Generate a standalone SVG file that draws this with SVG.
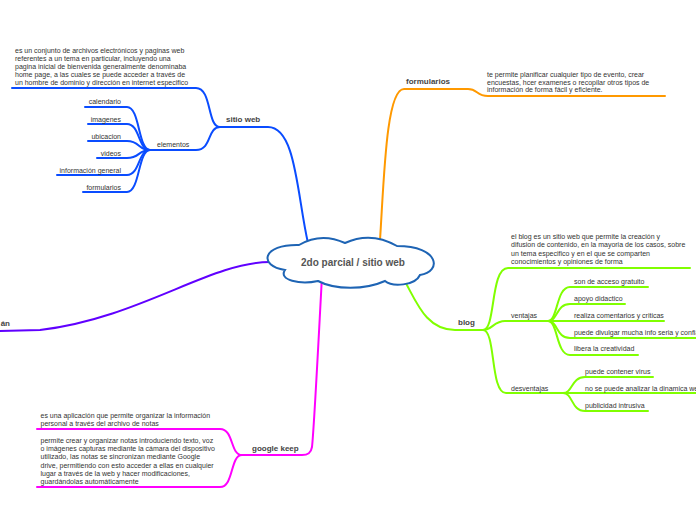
<svg xmlns="http://www.w3.org/2000/svg" width="696" height="520" viewBox="0 0 696 520">
<style>
.c{fill:none;stroke-width:2;stroke-linecap:round}
.b{stroke:#0a4cff}.o{stroke:#ff9900}.g{stroke:#80ff00}.m{stroke:#ff00ff}.p{stroke:#6000ff}
text{font-family:"Liberation Sans",Arial,sans-serif;fill:#333}
.t{font-size:7px}
.l{font-size:8px;font-weight:bold;fill:#444}
.ctr{font-size:10px;font-weight:bold;fill:#555}
</style>
<rect width="696" height="520" fill="#fff"/>
<g id="connectors">
<path class="c b" d="M308,243 C297,195 296,127 268,127 L220,127"/>
<path class="c b" d="M220,127 C207,127 212,88 196,88 L12,88"/>
<path class="c b" d="M220,127 C207,127 212,150 196,150 L150,150"/>
<path class="c b" d="M150,150 C138,150 140,107 127,107 L85,107"/>
<path class="c b" d="M150,150 C138,150 140,124 127,124 L88,124"/>
<path class="c b" d="M150,150 C138,150 140,141 127,141 L88,141"/>
<path class="c b" d="M150,150 C138,150 140,158 127,158 L97,158"/>
<path class="c b" d="M150,150 C138,150 140,175 127,175 L57,175"/>
<path class="c b" d="M150,150 C138,150 140,192 127,192 L83,192"/>
<path class="c o" d="M380,240 C384,180 386,89 404,89 L468,89 C478,89 476,96 488,96 L665,96"/>
<path class="c g" d="M403,278 C416,300 425,330 455,330 L483,330"/>
<path class="c g" d="M483,330 C496,330 490,268 508,268 L690,268"/>
<path class="c g" d="M483,330 C492,330 494,321 505,321 L548,321"/>
<path class="c g" d="M483,330 C496,330 490,393 506,393 L563,393"/>
<path class="c g" d="M548,321 C558,321 556,287 570,287 L648,287"/>
<path class="c g" d="M548,321 C558,321 556,304 570,304 L625,304"/>
<path class="c g" d="M548,321 L664,321"/>
<path class="c g" d="M548,321 C558,321 556,338 570,338 L700,338"/>
<path class="c g" d="M548,321 C558,321 556,355 570,355 L638,355"/>
<path class="c g" d="M563,393 C573,393 571,377 585,377 L653,377"/>
<path class="c g" d="M563,393 L700,393"/>
<path class="c g" d="M563,393 C573,393 571,411 585,411 L648,411"/>
<path class="c p" d="M270,262 C210,262 140,318 40,330 L-2,331"/>
<path class="c m" d="M322,276 C318,350 314,430 312,447 C311,453 308,455 302,455 L242,455"/>
<path class="c m" d="M242,455 C230,455 234,429 220,429 L37,429"/>
<path class="c m" d="M242,455 C230,455 234,487 220,487 L37,487"/>
</g>
<g id="center">
<path d="M299,245 Q321,232 345,243 Q371,231 397,246 C440,246 442,272 420,275 C415,286 392,287 385,281 C365,290 335,290 318,281 C300,285 278,280 285,270 C258,266 262,244 299,245 Z" fill="#fff" stroke="#1e64b4" stroke-width="2"/>
<text class="ctr" x="353" y="266" text-anchor="middle">2do parcial / sitio web</text>
</g>
<g id="sitio-web">
<text class="l" x="226" y="122">sitio web</text>
</g>
<g id="sitio-web-def">
<text class="t" x="15" y="52.5">es un conjunto de archivos electrónicos y paginas web</text>
<text class="t" x="15" y="60.6">referentes a un tema en particular, incluyendo una</text>
<text class="t" x="15" y="68.7">pagina inicial de bienvenida generalmente denominaba</text>
<text class="t" x="15" y="76.8">home page, a las cuales se puede acceder a través de</text>
<text class="t" x="15" y="84.9">un hombre de dominio y dirección en internet especifico</text>
</g>
<g id="elementos"><text class="t" x="157" y="146.5">elementos</text></g>
<g id="calendario"><text class="t" x="121" y="104" text-anchor="end">calendario</text></g>
<g id="imagenes"><text class="t" x="121" y="121.5" text-anchor="end">imagenes</text></g>
<g id="ubicacion"><text class="t" x="121" y="138.5" text-anchor="end">ubicacion</text></g>
<g id="videos"><text class="t" x="121" y="155.5" text-anchor="end">videos</text></g>
<g id="informacion-general"><text class="t" x="121" y="172.5" text-anchor="end">información general</text></g>
<g id="formularios-el"><text class="t" x="121" y="189.5" text-anchor="end">formularios</text></g>
<g id="formularios"><text class="l" x="406" y="84">formularios</text></g>
<g id="formularios-def">
<text class="t" x="487" y="76.5">te permite planificar cualquier tipo de evento, crear</text>
<text class="t" x="487" y="84.5">encuestas, hcer examenes o recopilar otros tipos de</text>
<text class="t" x="487" y="92">información de forma fácil y eficiente.</text>
</g>
<g id="blog"><text class="l" x="458" y="325">blog</text></g>
<g id="blog-def">
<text class="t" x="511" y="239.2">el blog es un sitio web que permite la creación y</text>
<text class="t" x="511" y="247.4">difusion de contenido, en la mayoria de los casos, sobre</text>
<text class="t" x="511" y="255.6">un tema especifico y en el que se comparten</text>
<text class="t" x="511" y="263.8">conocimientos y opiniones de forma</text>
</g>
<g id="ventajas"><text class="t" x="511" y="317.5">ventajas</text></g>
<g id="v1"><text class="t" x="574" y="284.2">son de acceso gratuito</text></g>
<g id="v2"><text class="t" x="574" y="301">apoyo didactico</text></g>
<g id="v3"><text class="t" x="574" y="317.8">realiza comentarios y criticas</text></g>
<g id="v4"><text class="t" x="574" y="334.6">puede divulgar mucha info seria y confiable</text></g>
<g id="v5"><text class="t" x="574" y="351.4">libera la creatividad</text></g>
<g id="desventajas"><text class="t" x="511" y="390.5">desventajas</text></g>
<g id="d1"><text class="t" x="585" y="374.2">puede contener virus</text></g>
<g id="d2"><text class="t" x="585" y="391">no se puede analizar la dinamica web</text></g>
<g id="d3"><text class="t" x="585" y="407.6">publicidad intrusiva</text></g>
<g id="left-branch"><text class="l" x="10" y="326" text-anchor="end">án</text></g>
<g id="google-keep"><text class="l" x="252" y="450.5">google keep</text></g>
<g id="gk-def1">
<text class="t" x="40.5" y="418.2">es una aplicación que permite organizar la información</text>
<text class="t" x="40.5" y="426">personal a través del archivo de notas</text>
</g>
<g id="gk-def2">
<text class="t" x="40.5" y="443.2">permite crear y organizar notas introduciendo texto, voz</text>
<text class="t" x="40.5" y="451.3">o imágenes capturas mediante la cámara del dispositivo</text>
<text class="t" x="40.5" y="459.4">utilizado, las notas se sincronizan mediante Google</text>
<text class="t" x="40.5" y="467.5">drive, permitiendo con esto acceder a ellas en cualquier</text>
<text class="t" x="40.5" y="475.6">lugar a través de la web y hacer modificaciones,</text>
<text class="t" x="40.5" y="483.7">guardándolas automáticamente</text>
</g>
</svg>
